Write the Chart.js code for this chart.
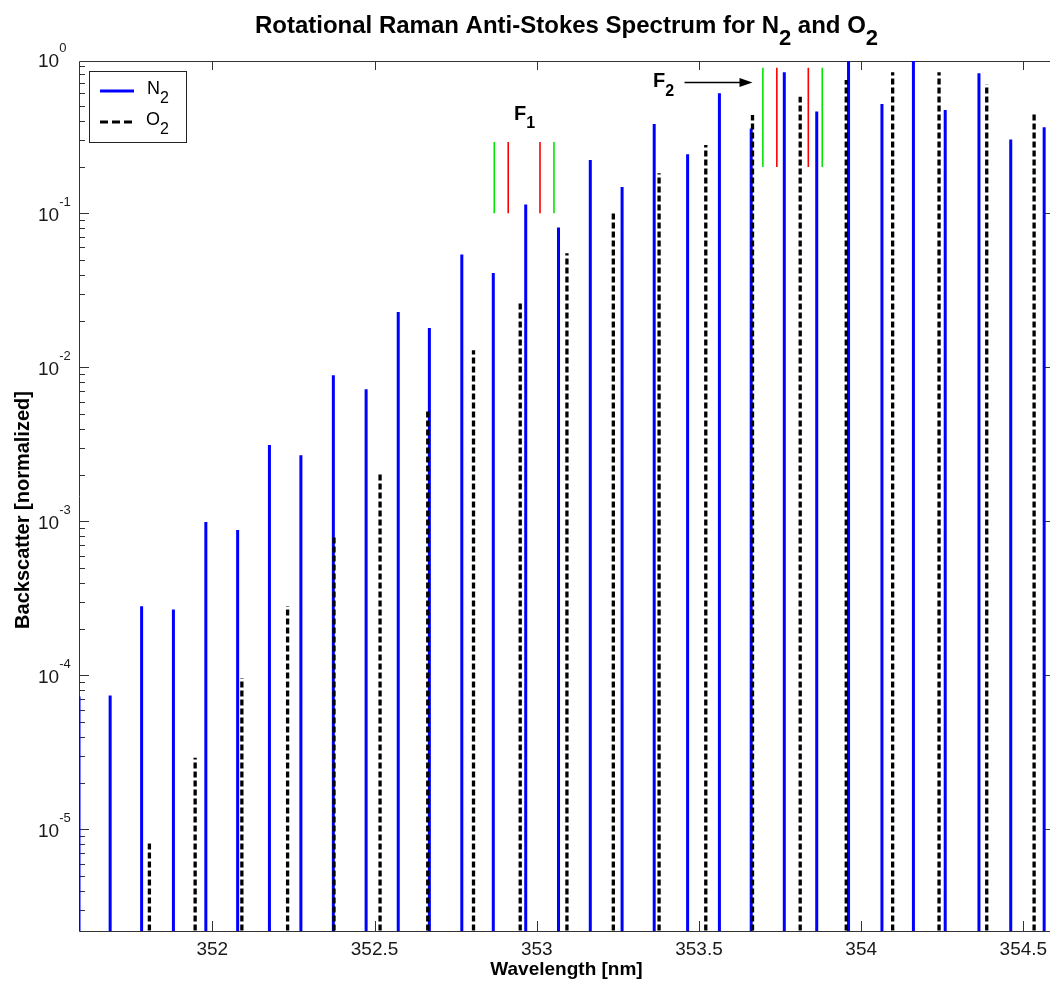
<!DOCTYPE html>
<html>
<head>
<meta charset="utf-8">
<title>Rotational Raman Anti-Stokes Spectrum for N2 and O2</title>
<script src="https://cdn.jsdelivr.net/npm/chart.js@4.4.1/dist/chart.umd.min.js"></script>
<style>
  html, body { margin: 0; padding: 0; background: #fff; }
  canvas { display: block; }
</style>
</head>
<body>
<canvas id="spectrum" width="1050" height="986"></canvas>
<script>
(() => {
  'use strict'

  // N2 rotational lines: wavelength [nm] and normalized backscatter
  const n2Wavelength = [
    351.589, 351.685, 351.782, 351.880, 351.980, 352.078, 352.176, 352.273,
    352.373, 352.474, 352.573, 352.669, 352.769, 352.866, 352.966, 353.067,
    353.165, 353.263, 353.362, 353.465, 353.563, 353.661, 353.763, 353.863,
    353.961, 354.064, 354.161, 354.259, 354.363, 354.461, 354.564
  ]
  const n2Backscatter = [
    7.3e-5, 7.4e-5, 2.81e-4, 2.68e-4, 9.9e-4, 8.8e-4, 3.13e-3, 2.69e-3,
    8.9e-3, 7.2e-3, 2.29e-2, 1.8e-2, 5.4e-2, 4.1e-2, 0.114, 0.081,
    0.222, 0.148, 0.380, 0.242, 0.601, 0.356, 0.823, 0.459,
    1.0, 0.513, 1.0, 0.469, 0.811, 0.302, 0.362
  ]

  // O2 rotational lines
  const o2Wavelength = [
    351.806, 351.947, 352.091, 352.232, 352.375, 352.517, 352.664, 352.805,
    352.949, 353.093, 353.236, 353.377, 353.521, 353.665, 353.812, 353.954,
    354.097, 354.240, 354.387, 354.533
  ]
  const o2Backscatter = [
    8.3e-6, 2.92e-5, 9.6e-5, 2.82e-4, 8.1e-4, 2.09e-3, 5.4e-3, 1.29e-2,
    2.66e-2, 5.5e-2, 0.102, 0.182, 0.278, 0.435, 0.572, 0.734,
    0.823, 0.823, 0.688, 0.446
  ]

  // filter edges (outer = green, inner = red) and the height of their markers
  const f1Outer = [352.869, 353.053]
  const f1Inner = [352.912, 353.010]
  const f1Span = [0.1, 0.29]
  const f2Outer = [353.697, 353.880]
  const f2Inner = [353.740, 353.837]
  const f2Span = [0.2, 0.88]

  // axis ranges and ticks
  const xRange = [351.589, 354.582]
  const yRange = [2.19e-6, 0.975]
  const xTicks = [352, 352.5, 353, 353.5, 354, 354.5]
  const yExponents = [0, -1, -2, -3, -4, -5]

  // label anchors in data units
  const f1Label = { x: 352.930, y: 0.403 }
  const f2Label = { x: 353.3585, y: 0.661 }
  const f2Arrow = { from: 353.4555, to: 353.665, y: 0.715 }

  const FONT = '"Liberation Sans", Arial, Helvetica, sans-serif'
  const FLOOR = 1e-7
  const DASH = [6, 3]

  // each line becomes a vertical stroke from below the axis up to its value
  const sticks = (xs, ys) => xs.flatMap((x, i) => [{ x, y: FLOOR }, { x, y: ys[i] }, { x, y: null }])
  const marks = (xs, [lo, hi]) => xs.flatMap(x => [{ x, y: lo }, { x, y: hi }, { x, y: null }])

  // text made of runs: [text, size factor, baseline shift in em]
  const drawRuns = (c, runs, x, y, size, weight, align) => {
    const fontOf = f => `${weight} ${Math.round(size * f)}px ${FONT}`
    let total = 0
    runs.forEach(([t, f]) => { c.font = fontOf(f); total += c.measureText(t).width })
    let cx = align === 'center' ? x - total / 2 : x
    c.textAlign = 'left'
    c.textBaseline = 'alphabetic'
    runs.forEach(([t, f, dy]) => {
      c.font = fontOf(f)
      c.fillText(t, cx, y + dy * size)
      cx += c.measureText(t).width
    })
  }

  const frame = {
    id: 'frame',
    beforeDatasetsDraw(chart) {
      const c = chart.ctx
      const { left, right, top, bottom } = chart.chartArea
      const xs = chart.scales.x
      const ys = chart.scales.y
      c.save()
      c.strokeStyle = '#333'
      c.lineWidth = 1
      c.beginPath()
      c.rect(left + 0.5, top + 0.5, right - left, bottom - top)
      // x ticks, inward on both sides
      xTicks.forEach(v => {
        const px = Math.round(xs.getPixelForValue(v)) + 0.5
        c.moveTo(px, bottom); c.lineTo(px, bottom - 10)
        c.moveTo(px, top); c.lineTo(px, top + 9)
      })
      // log ticks on y: decades long, 2..9 short; the right side only shows decades
      for (let e = -6; e <= 0; e++) {
        for (let m = 1; m <= 9; m++) {
          const v = m * Math.pow(10, e)
          if (v < yRange[0] || v > yRange[1] * 1.0001) continue
          const py = Math.round(ys.getPixelForValue(v)) + 0.5
          const len = m === 1 ? 10 : 6
          c.moveTo(left, py); c.lineTo(left + len, py)
          if (m === 1) { c.moveTo(right, py); c.lineTo(right - 7, py) }
        }
      }
      c.stroke()

      c.fillStyle = '#1a1a1a'
      xTicks.forEach(v => {
        drawRuns(c, [[String(v), 1, 0]], xs.getPixelForValue(v), 955, 19, '', 'center')
      })
      yExponents.forEach(e => {
        const py = ys.getPixelForValue(Math.pow(10, e))
        drawRuns(c, [['10', 1, 0], [String(e), 0.7, -0.8]], 38, py + 8, 19, '', 'left')
      })
      c.restore()
    },
    afterDatasetsDraw(chart) {
      const c = chart.ctx
      const { left, right, top, bottom } = chart.chartArea
      const xs = chart.scales.x
      const ys = chart.scales.y
      c.save()
      c.fillStyle = '#000'

      // title and axis labels
      drawRuns(c, [['Rotational Raman Anti-Stokes Spectrum for N', 1, 0], ['2', 0.9, 0.5],
        [' and O', 1, 0], ['2', 0.9, 0.5]], (left + right) / 2 + 2, 33, 24, 'bold', 'center')
      drawRuns(c, [['Wavelength [nm]', 1, 0]], (left + right) / 2 + 2, 975, 19, 'bold', 'center')
      c.save()
      c.translate(29, (top + bottom) / 2 + 14)
      c.rotate(-Math.PI / 2)
      drawRuns(c, [['Backscatter [normalized]', 1, 0]], 0, 0, 20, 'bold', 'center')
      c.restore()

      // filter labels and arrow
      drawRuns(c, [['F', 1, 0], ['1', 0.8, 0.42]], xs.getPixelForValue(f1Label.x),
        ys.getPixelForValue(f1Label.y), 20, 'bold', 'left')
      drawRuns(c, [['F', 1, 0], ['2', 0.8, 0.45]], xs.getPixelForValue(f2Label.x),
        ys.getPixelForValue(f2Label.y), 20, 'bold', 'left')
      const ax0 = xs.getPixelForValue(f2Arrow.from)
      const ax1 = xs.getPixelForValue(f2Arrow.to)
      const ay = Math.round(ys.getPixelForValue(f2Arrow.y)) + 0.5
      c.strokeStyle = '#000'
      c.lineWidth = 1.5
      c.beginPath(); c.moveTo(ax0, ay); c.lineTo(ax1 - 10, ay); c.stroke()
      c.beginPath()
      c.moveTo(ax1, ay); c.lineTo(ax1 - 13, ay - 4.5); c.lineTo(ax1 - 13, ay + 4.5)
      c.closePath(); c.fill()

      // legend
      const lx = 89.5, ly = 71.5
      c.fillStyle = '#fff'
      c.fillRect(lx, ly, 97, 71)
      c.strokeStyle = '#222'
      c.lineWidth = 1
      c.strokeRect(lx, ly, 97, 71)
      c.lineWidth = 3
      c.strokeStyle = '#0000ff'
      c.beginPath(); c.moveTo(100, 91); c.lineTo(134, 91); c.stroke()
      c.strokeStyle = '#000'
      c.setLineDash([8, 4])
      c.beginPath(); c.moveTo(100, 122); c.lineTo(134, 122); c.stroke()
      c.setLineDash([])
      c.fillStyle = '#000'
      drawRuns(c, [['N', 1, 0], ['2', 0.9, 0.52]], 147, 93.5, 18, '', 'left')
      drawRuns(c, [['O', 1, 0], ['2', 0.9, 0.52]], 146, 125, 18, '', 'left')
      c.restore()
    }
  }

  const ctx = document.getElementById('spectrum').getContext('2d')

  new Chart(ctx, {
    type: 'line',
    data: {
      datasets: [
        { label: 'N2', data: sticks(n2Wavelength, n2Backscatter), borderColor: '#0000ff',
          borderWidth: 3, order: 2 },
        { label: 'O2', data: sticks(o2Wavelength, o2Backscatter), borderColor: '#000000',
          borderWidth: 3.3, borderDash: DASH, order: 1 },
        { label: 'outer edges', data: [...marks(f1Outer, f1Span), ...marks(f2Outer, f2Span)],
          borderColor: '#00e600', borderWidth: 1.6, order: 0 },
        { label: 'inner edges', data: [...marks(f1Inner, f1Span), ...marks(f2Inner, f2Span)],
          borderColor: '#ff0000', borderWidth: 1.6, order: 0 }
      ]
    },
    options: {
      responsive: false,
      animation: false,
      spanGaps: false,
      layout: { padding: { left: 79, top: 61, right: 0, bottom: 55 } },
      elements: { point: { radius: 0 }, line: { tension: 0, borderCapStyle: 'butt' } },
      scales: {
        x: { type: 'linear', min: xRange[0], max: xRange[1], display: false },
        y: { type: 'logarithmic', min: yRange[0], max: yRange[1], display: false }
      },
      plugins: {
        legend: { display: false },
        tooltip: { enabled: false }
      }
    },
    plugins: [frame]
  })
})()
</script>
</body>
</html>
